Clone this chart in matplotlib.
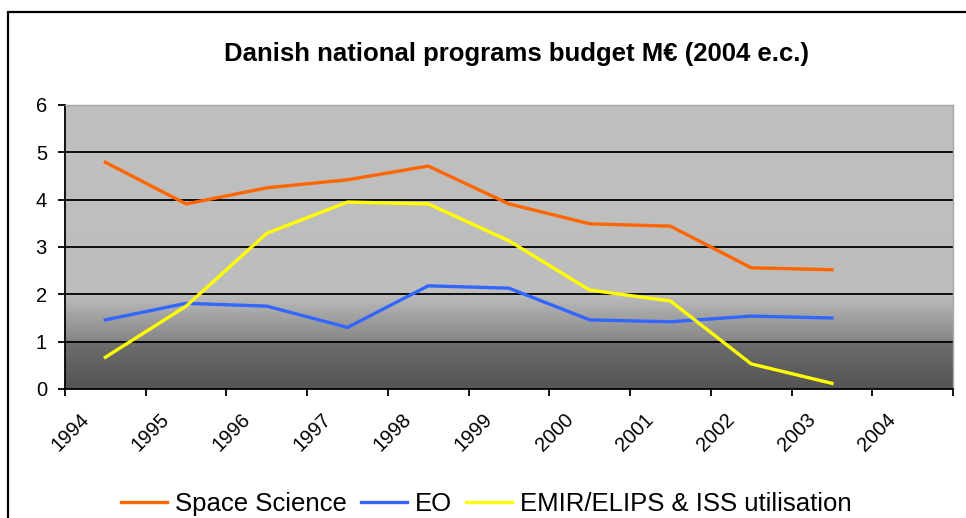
import numpy as np
import matplotlib
matplotlib.use("Agg")
import matplotlib.pyplot as plt
from matplotlib.colors import LinearSegmentedColormap
from matplotlib.patches import Rectangle
import matplotlib.transforms as mtransforms

plt.rcParams['font.family'] = ['Liberation Sans', 'DejaVu Sans']

years = ['1994', '1995', '1996', '1997', '1998', '1999', '2000', '2001', '2002', '2003', '2004']
space_science = [4.79, 3.91, 4.25, 4.42, 4.71, 3.91, 3.49, 3.44, 2.56, 2.52]
eo = [1.46, 1.81, 1.75, 1.30, 2.18, 2.13, 1.46, 1.42, 1.54, 1.50]
emir_elips = [0.67, 1.75, 3.29, 3.95, 3.91, 3.13, 2.09, 1.86, 0.53, 0.12]

fig = plt.figure(figsize=(9.66, 5.18), dpi=100)
ax = fig.add_axes([65 / 966, 129 / 518, 888 / 966, 284 / 518])

# gradient background of the plot area (grey on top, dark at the bottom)
ymax = 6
bg = LinearSegmentedColormap.from_list('bg', [
    (0.0, '#545454'),
    (0.98 / ymax, '#6e6e6e'),
    (1.02 / ymax, '#878787'),
    (2.0 / ymax, '#bdbdbd'),
    (1.0, '#c0c0c0'),
])
grad = np.linspace(0, 1, 600).reshape(-1, 1)
ax.imshow(grad, extent=[0, 11, 0, ymax], origin='lower', aspect='auto',
          cmap=bg, zorder=0, interpolation='bilinear')

x = np.arange(len(space_science)) + 0.5
ax.plot(x, space_science, color='#ff6600', lw=2.4, label='Space Science', zorder=3)
ax.plot(x, eo, color='#3366ff', lw=2.4, label='EO', zorder=3)
ax.plot(x, emir_elips, color='#ffff00', lw=2.4, label='EMIR/ELIPS & ISS utilisation', zorder=3)

ax.set_xlim(0, 11)
ax.set_ylim(0, ymax)
ax.set_yticks(range(0, 7))
ax.set_xticks(range(0, 12))
ax.set_xticklabels(years + [''])
for y in range(1, 7):
    ax.axhline(y, color='black', lw=1.3, zorder=2)

ax.tick_params(axis='both', direction='out', length=5, width=1.3, color='black',
               labelsize=14.5)
ax.tick_params(axis='y', pad=8)
ax.tick_params(axis='x', pad=10)
offset = mtransforms.ScaledTranslation(5 / 100, 0, fig.dpi_scale_trans)
for lbl in ax.get_xticklabels():
    lbl.set_rotation(45)
    lbl.set_ha('center')
    lbl.set_transform(lbl.get_transform() + offset)

for side in ['left', 'bottom']:
    ax.spines[side].set_color('black')
    ax.spines[side].set_linewidth(1.3)
for side in ['top', 'right']:
    ax.spines[side].set_color('#a8a8a8')
    ax.spines[side].set_linewidth(1.0)

fig.text(516 / 966, 1 - 54 / 518, 'Danish national programs budget M€ (2004 e.c.)',
         ha='center', va='center', fontsize=18.5, fontweight='bold')

fig.legend(loc='center', bbox_to_anchor=(486 / 966, 1 - 504 / 518), ncol=3,
           frameon=False, fontsize=18.5, handlelength=1.8, handletextpad=0.3,
           columnspacing=0.55)

# outer chart frame (left and top edges visible)
fig.patches.append(Rectangle((8 / 966, -0.1), 1.2, 1.1 - 12 / 518, fill=False,
                             lw=1.6, edgecolor='black', transform=fig.transFigure))

fig.savefig('out.png', dpi=100)
